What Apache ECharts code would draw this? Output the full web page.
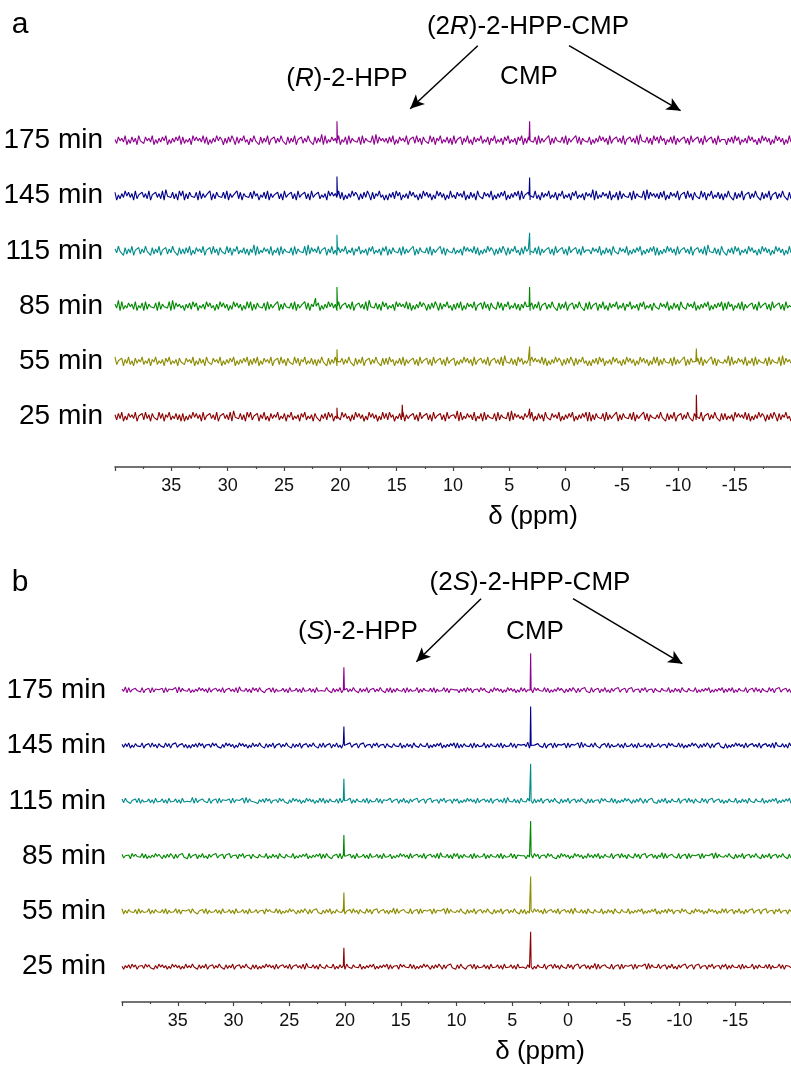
<!DOCTYPE html>
<html><head><meta charset="utf-8">
<script src="https://cdn.jsdelivr.net/npm/echarts@6/dist/echarts.min.js"></script>
<style>html,body{margin:0;padding:0;background:#fff}#c{width:791px;height:1068px}</style>
</head><body><div id="c"></div>
<script>
// ---------- data ----------
const TIME_LABELS = ['25 min', '55 min', '85 min', '115 min', '145 min', '175 min'];
const TRACE_COLORS = ['#8B0000', '#8B8B00', '#008800', '#008B8B', '#00008B', '#8E008E'];
const X_MIN = -20, X_MAX = 40;          // ppm (axis reversed)

// baseline noise segments, one digit per sample (4.5 = baseline)
const SEG1 = "6273815274638154728361745283716482537261";
const SEG2 = "7152638473618254736281547362819453726184";
const SEG3 = "8254716382517364825371648253617482536174";
const SEG4 = "5163728471536284735162847361528473615283";
const SEG5 = "7284615372816354726183547261835472618354";
const SEG6 = "6391825374628153718264537182645381927463";
const SEG7 = "5274638152736184527463815263748152637481";
const SEG8 = "8162745371826354816274537281635482716453";
const SEG9 = "6384517263815472638451726381547263845172";
const SEG10 = "7253618474638271526384751627385172648351";

const NOISE_A_25 = [SEG1, SEG2, SEG3, SEG4, SEG5, SEG6, SEG7, SEG8, SEG9, SEG10].join('');
const NOISE_A_55 = [SEG3, SEG7, SEG1, SEG9, SEG5, SEG2, SEG10, SEG4, SEG8, SEG6].join('');
const NOISE_A_85 = [SEG6, SEG4, SEG8, SEG2, SEG10, SEG1, SEG9, SEG3, SEG7, SEG5].join('');
const NOISE_A_115 = [SEG9, SEG1, SEG6, SEG3, SEG8, SEG10, SEG5, SEG7, SEG2, SEG4].join('');
const NOISE_A_145 = [SEG2, SEG8, SEG5, SEG10, SEG4, SEG7, SEG3, SEG6, SEG1, SEG9].join('');
const NOISE_A_175 = [SEG7, SEG10, SEG9, SEG6, SEG1, SEG3, SEG8, SEG2, SEG5, SEG4].join('');

const NOISE_B_25 = [SEG4, SEG9, SEG2, SEG7, SEG10, SEG5, SEG1, SEG6, SEG3, SEG8].join('');
const NOISE_B_55 = [SEG8, SEG5, SEG10, SEG1, SEG6, SEG9, SEG2, SEG7, SEG4, SEG3].join('');
const NOISE_B_85 = [SEG10, SEG3, SEG7, SEG5, SEG2, SEG8, SEG4, SEG1, SEG6, SEG9].join('');
const NOISE_B_115 = [SEG5, SEG6, SEG4, SEG8, SEG3, SEG2, SEG9, SEG10, SEG1, SEG7].join('');
const NOISE_B_145 = [SEG1, SEG4, SEG9, SEG3, SEG7, SEG8, SEG6, SEG5, SEG10, SEG2].join('');
const NOISE_B_175 = [SEG6, SEG2, SEG5, SEG9, SEG8, SEG4, SEG10, SEG3, SEG7, SEG1].join('');

// peaks: [ppm, height above baseline]
const PEAKS_A_25 = [[20.3, 9], [14.5, 12], [3.2, 8], [-11.6, 22]];
const PEAKS_A_55 = [[20.3, 12], [3.2, 15], [-11.6, 13]];
const PEAKS_A_85 = [[22.2, 8], [20.3, 19], [3.2, 19]];
const PEAKS_A_115 = [[20.3, 16], [3.2, 18]];
const PEAKS_A_145 = [[20.3, 19], [3.2, 18]];
const PEAKS_A_175 = [[20.3, 19], [3.2, 19]];

const PEAKS_B_25 = [[20.1, 19], [3.35, 35]];
const PEAKS_B_55 = [[20.1, 19], [3.35, 35]];
const PEAKS_B_85 = [[20.1, 21], [3.35, 35]];
const PEAKS_B_115 = [[20.1, 22], [3.35, 37]];
const PEAKS_B_145 = [[20.1, 19], [3.35, 39]];
const PEAKS_B_175 = [[20.1, 23], [3.35, 37]];

const NOISE_A = [NOISE_A_25, NOISE_A_55, NOISE_A_85, NOISE_A_115, NOISE_A_145, NOISE_A_175];
const NOISE_B = [NOISE_B_25, NOISE_B_55, NOISE_B_85, NOISE_B_115, NOISE_B_145, NOISE_B_175];
const PEAKS_A = [PEAKS_A_25, PEAKS_A_55, PEAKS_A_85, PEAKS_A_115, PEAKS_A_145, PEAKS_A_175];
const PEAKS_B = [PEAKS_B_25, PEAKS_B_55, PEAKS_B_85, PEAKS_B_115, PEAKS_B_145, PEAKS_B_175];

// ---------- layout ----------
const STEP = 55.3;             // vertical offset between stacked spectra
const OFFSETS = TIME_LABELS.map((_, i) => i * STEP);
const FONT = 'Liberation Sans, Arial, Helvetica, sans-serif';

function buildTrace(noise, peaks, scale, offset) {
  const n = noise.length;
  const pts = [];
  for (let i = 0; i < n; i++) {
    const x = X_MAX - (X_MAX - X_MIN) * i / (n - 1);
    pts.push([x, (noise.charCodeAt(i) - 48 - 4.5) * scale + offset]);
  }
  peaks.forEach(([p, h]) => {
    pts.push([p + 0.05, offset], [p, offset + h], [p - 0.05, offset]);
  });
  pts.sort((a, b) => b[0] - a[0]);
  return pts;
}

function xAxisCfg(gridIndex) {
  return {
    type: 'value', gridIndex, inverse: true, min: X_MIN, max: X_MAX, interval: 5,
    axisLine: { show: true, onZero: false, lineStyle: { color: '#444', width: 1.5 } },
    axisTick: { show: true, length: 4, lineStyle: { color: '#444', width: 1.2 } },
    minorTick: { show: true, splitNumber: 2, length: 2, lineStyle: { color: '#444', width: 1.2 } },
    axisLabel: { show: true, showMinLabel: false, showMaxLabel: false, fontSize: 18, fontFamily: FONT, color: '#111', margin: 10 },
    splitLine: { show: false }, minorSplitLine: { show: false }
  };
}
function yAxisCfg(gridIndex, min, max, margin) {
  return {
    type: 'value', gridIndex, min, max,
    axisLine: { show: false }, axisTick: { show: false }, splitLine: { show: false },
    axisLabel: {
      show: true, customValues: OFFSETS, margin,
      formatter: v => TIME_LABELS[Math.round(v / STEP)],
      fontSize: 28, fontFamily: FONT, color: '#000', padding: [0, 0, 5, 0]
    }
  };
}

const arrowStyle = {
  silent: true, symbol: ['none', 'arrow'], symbolSize: [10, 14], animation: false,
  label: { show: false }, lineStyle: { color: '#000', width: 1.5, type: 'solid' },
  emphasis: { disabled: true }
};

const series = [];
[[NOISE_A, PEAKS_A, 1.3, 0], [NOISE_B, PEAKS_B, 0.75, 1]].forEach(([noises, peaks, scale, gi]) => {
  noises.forEach((nz, i) => {
    const s = {
      type: 'line', xAxisIndex: gi, yAxisIndex: gi, showSymbol: false, silent: true,
      animation: false,
      data: buildTrace(nz, peaks[i], scale, OFFSETS[i]),
      lineStyle: { color: TRACE_COLORS[i], width: 1.1 }, itemStyle: { color: TRACE_COLORS[i] }
    };
    if (i === 5) {
      s.markLine = Object.assign({}, arrowStyle, {
        data: gi === 0
          ? [[{ coord: [7.8, 371] }, { coord: [13.8, 308] }], [{ coord: [-0.3, 371] }, { coord: [-10.2, 306] }]]
          : [[{ coord: [7.8, 368] }, { coord: [13.6, 305] }], [{ coord: [-0.45, 368] }, { coord: [-10.25, 303] }]]
      });
    }
    series.push(s);
  });
});

function txt(x, y, text, size, rich) {
  return {
    type: 'text', x, y, silent: true,
    style: {
      text, fontSize: size, fontFamily: FONT, fill: '#000', align: 'center', verticalAlign: 'middle',
      rich: rich ? { it: { fontStyle: 'italic', fontSize: size, fontFamily: FONT, fill: '#000' } } : undefined
    }
  };
}

const option = {
  backgroundColor: '#fff',
  animation: false,
  grid: [
    { left: 115, right: -4, top: 40, height: 427, containLabel: false },
    { left: 122, right: -10, top: 590, height: 412, containLabel: false }
  ],
  xAxis: [xAxisCfg(0), xAxisCfg(1)],
  yAxis: [yAxisCfg(0, -50.3, 376.7, 12), yAxisCfg(1, -35.3, 376.7, 16)],
  series,
  graphic: [
    txt(20, 25, 'a', 30),
    txt(528, 27, '(2{it|R})-2-HPP-CMP', 26, true),
    txt(347, 79, '({it|R})-2-HPP', 26, true),
    txt(529, 77, 'CMP', 26),
    txt(533, 517, 'δ (ppm)', 26),
    txt(20, 583, 'b', 30),
    txt(530, 583, '(2{it|S})-2-HPP-CMP', 26, true),
    txt(358, 632, '({it|S})-2-HPP', 26, true),
    txt(535, 632, 'CMP', 26),
    txt(540, 1052, 'δ (ppm)', 26)
  ]
};

const chart = echarts.init(document.getElementById('c'), null, { renderer: 'canvas' });
chart.setOption(option);
</script>
</body></html>
